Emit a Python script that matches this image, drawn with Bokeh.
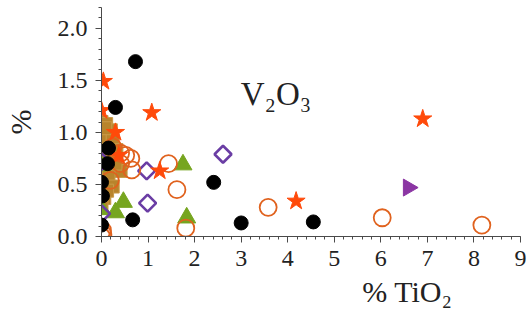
from bokeh.plotting import figure
from bokeh.models import Title, Label, SingleIntervalTicker, Range1d, PrintfTickFormatter
from bokeh.embed import file_html
from bokeh.resources import INLINE

# ---- data ----
black_x = [0.73, 0.30, 0.15, 0.13, 0.00, 0.02, 0.00, 0.67, 2.41, 3.00, 4.55]
black_y = [1.68, 1.24, 0.85, 0.70, 0.52, 0.39, 0.11, 0.16, 0.52, 0.13, 0.14]

star_x = [0.04, 0.00, 1.08, 0.30, 1.25, 6.90, 4.18, 0.37]
star_y = [1.49, 1.21, 1.19, 1.00, 0.63, 1.13, 0.34, 0.78]

ocirc_x = [6.03, 8.17, 3.58, 1.81, 1.62, 1.44, 0.63, 0.65, 0.41, 0.24, 0.19, 0.02, 0.00, 0.03, 0.41, 0.52]
ocirc_y = [0.18, 0.11, 0.28, 0.08, 0.45, 0.70, 0.75, 0.64, 0.70, 0.86, 0.54, 0.06, 0.00, 0.02, 0.80, 0.78]

tri_x = [1.75, 1.83, 0.47, 0.30, 0.00, 0.00]
tri_y = [0.69, 0.18, 0.33, 0.23, 0.68, 0.26]

dia_x = [2.61, 0.97, 0.99, 0.00, 0.00]
dia_y = [0.79, 0.63, 0.32, 0.72, 0.22]

rtri_x = [6.59]
rtri_y = [0.47]

sq_x = [0.00, 0.10, 0.00, 0.20, 0.06, 0.24, 0.00, 0.32, 0.06, 0.24, 0.41, 0.00, 0.15, 0.00, 0.24, 0.06, 0.00, 0.08, 0.30, 0.12]
sq_y = [1.10, 1.08, 1.00, 1.02, 0.92, 0.92, 0.83, 0.83, 0.75, 0.73, 0.63, 0.65, 0.59, 0.49, 0.48, 0.37, 0.30, 1.04, 0.70, 0.44]

x_ticks_interval = 1
y_ticks_interval = 0.5

FONT = "Liberation Serif"
INK = "#222222"

p = figure(width=527, height=311, output_backend="svg", toolbar_location=None,
           x_range=Range1d(0, 9), y_range=Range1d(0, 2.2),
           min_border_left=101, min_border_right=7, min_border_top=7, min_border_bottom=0)
p.grid.visible = False
p.outline_line_color = None

for ax in (p.xaxis[0], p.yaxis[0]):
    ax.axis_line_color = "#4a4a4a"
    ax.major_tick_line_color = "#4a4a4a"
    ax.minor_tick_line_color = "#4a4a4a"
    ax.major_tick_out = 6
    ax.major_tick_in = 0
    ax.minor_tick_out = 3
    ax.minor_tick_in = 0
    ax.major_label_text_font = FONT
    ax.major_label_text_font_size = "24px"
    ax.major_label_text_color = INK

p.xaxis.ticker = SingleIntervalTicker(interval=x_ticks_interval, num_minor_ticks=5)
p.yaxis.ticker = SingleIntervalTicker(interval=y_ticks_interval, num_minor_ticks=5)
p.yaxis.formatter = PrintfTickFormatter(format="%.1f")
p.xaxis.major_label_standoff = 8
p.yaxis.major_label_standoff = 8

p.yaxis.axis_label = "%"
p.yaxis.axis_label_text_font = FONT
p.yaxis.axis_label_text_font_size = "30px"
p.yaxis.axis_label_text_font_style = "normal"
p.yaxis.axis_label_text_color = INK
p.yaxis.axis_label_standoff = 18

# x-axis title, right-shifted as in the reference
p.add_layout(Title(text="% TiO₂", align="right", offset=68, standoff=8,
                   text_font=FONT, text_font_size="30px", text_font_style="normal",
                   text_color=INK), "below")

# markers
p.scatter(sq_x, sq_y, marker="square", size=13, fill_color="#B8842C", line_color="#C89A48", line_width=1)
p.scatter(tri_x, tri_y, marker="triangle", size=18, fill_color="#76A51F", line_color="#76A51F")
p.scatter(dia_x, dia_y, marker="square", angle=0.7854, size=12, fill_color=None, line_color="#6A3DA4", line_width=2.6)
p.scatter(ocirc_x, ocirc_y, marker="circle", size=17, fill_color=None, line_color="#E0621E", line_width=1.8)
p.scatter(star_x, star_y, marker="star", size=19, fill_color="#FF4A0A", line_color="#FF4A0A")
p.scatter(black_x, black_y, marker="circle", size=14, fill_color="black", line_color="black")
p.scatter(rtri_x, rtri_y, marker="triangle", angle=-1.5708, size=17, fill_color="#8B35A3", line_color="#8B35A3")

p.add_layout(Label(x=2.99, y=1.37, text="V₂O₃", text_font=FONT, text_font_size="33px",
                   text_color=INK, text_baseline="alphabetic"))

open("out.html", "w").write(file_html(p, INLINE))
